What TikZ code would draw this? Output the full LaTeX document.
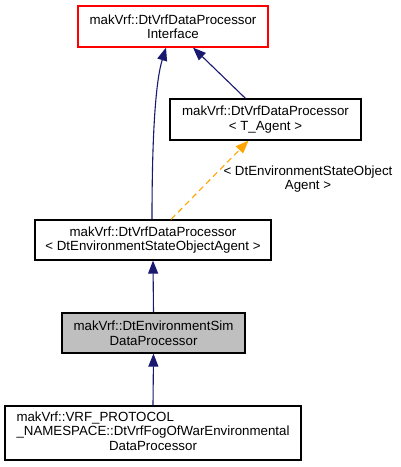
\documentclass[tikz,border=0pt]{standalone}
\usepackage{fontspec}
\setmainfont{Liberation Sans}
\usetikzlibrary{arrows.meta}
\definecolor{edgeblue}{HTML}{191970}
\definecolor{edgeorange}{HTML}{FFA500}
\definecolor{boxgray}{HTML}{BFBFBF}
\definecolor{boxred}{HTML}{FF0000}
\begin{document}
\begin{tikzpicture}[x=1pt,y=-1pt,
  every node/.style={font=\fontsize{13.3}{14.5}\selectfont},
  cls/.style={draw=black,line width=1.2pt,inner sep=0pt,align=center,fill=white},
  inh/.style={draw=edgeblue,line width=1.1pt,-{Triangle[length=13pt,width=10pt]}},
  tmpl/.style={draw=edgeorange,line width=1.1pt,dash pattern=on 6pt off 4pt,-{Triangle[length=13pt,width=10pt,fill=edgeorange]}}]
\useasboundingbox (0,0) rectangle (400,467);
\node[cls,draw=boxred,minimum width=190pt,minimum height=41pt] (iface) at (173,26.5)
  {makVrf::DtVrfDataProcessor\\Interface};
\node[cls,minimum width=191pt,minimum height=41pt] (tagent) at (265.5,119.5)
  {makVrf::DtVrfDataProcessor\\\textless{} T\_Agent \textgreater};
\node[cls,minimum width=236pt,minimum height=40pt] (mid) at (153,240)
  {makVrf::DtVrfDataProcessor\\\textless{} DtEnvironmentStateObjectAgent \textgreater};
\node[cls,fill=boxgray,minimum width=183pt,minimum height=40pt] (sim) at (153.5,333)
  {makVrf::DtEnvironmentSim\\DataProcessor};
\node[cls,minimum width=296pt,minimum height=54pt] (fog) at (153,433)
  {\begin{tabular}{@{}l@{}}makVrf::VRF\_PROTOCOL\\\_NAMESPACE::DtVrfFogOfWarEnvironmental\\\multicolumn{1}{@{}c@{}}{DataProcessor}\end{tabular}};
\node[align=center] (lbl) at (308,179)
  {\textless{} DtEnvironmentStateObject\\Agent \textgreater};
\draw[inh] ([xshift=-1pt]mid.north) .. controls (152,130) and (156,80) .. ([xshift=-7pt]iface.south);
\draw[inh] ([xshift=-20pt]tagent.north) -- ([xshift=20pt]iface.south);
\draw[tmpl] ([xshift=18pt]mid.north) -- ([xshift=-17pt]tagent.south);
\draw[inh] (sim.north) -- (mid.south);
\draw[inh] (fog.north) -- (sim.south);
\end{tikzpicture}
\end{document}
